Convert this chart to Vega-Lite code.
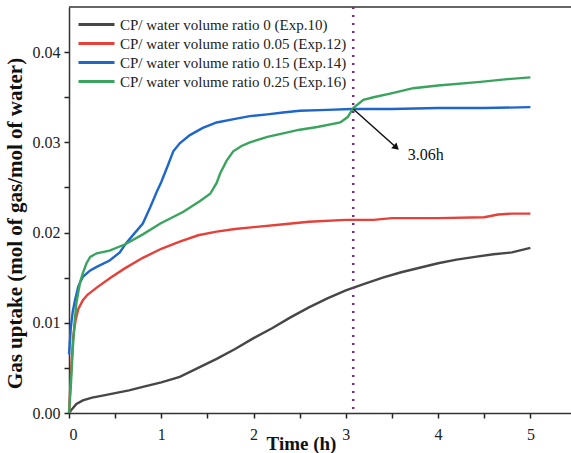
{
  "$schema": "https://vega.github.io/schema/vega-lite/v6.json",
  "width": 502,
  "height": 406,
  "autosize": "none",
  "padding": {"left": 69, "top": 7, "right": 0, "bottom": 40},
  "background": "white",
  "config": {
    "font": "Liberation Serif",
    "view": {"stroke": null}
  },
  "datasets": {
    "curves": [
      {"s": "CP/ water volume ratio 0 (Exp.10)", "t": 0, "v": 0},
      {"s": "CP/ water volume ratio 0 (Exp.10)", "t": 0.03, "v": 0.0004},
      {"s": "CP/ water volume ratio 0 (Exp.10)", "t": 0.08, "v": 0.0010},
      {"s": "CP/ water volume ratio 0 (Exp.10)", "t": 0.15, "v": 0.0014},
      {"s": "CP/ water volume ratio 0 (Exp.10)", "t": 0.25, "v": 0.0017},
      {"s": "CP/ water volume ratio 0 (Exp.10)", "t": 0.35, "v": 0.0019},
      {"s": "CP/ water volume ratio 0 (Exp.10)", "t": 0.5, "v": 0.0022},
      {"s": "CP/ water volume ratio 0 (Exp.10)", "t": 0.65, "v": 0.0025},
      {"s": "CP/ water volume ratio 0 (Exp.10)", "t": 0.8, "v": 0.0029},
      {"s": "CP/ water volume ratio 0 (Exp.10)", "t": 1.0, "v": 0.0034},
      {"s": "CP/ water volume ratio 0 (Exp.10)", "t": 1.2, "v": 0.0040},
      {"s": "CP/ water volume ratio 0 (Exp.10)", "t": 1.4, "v": 0.0050},
      {"s": "CP/ water volume ratio 0 (Exp.10)", "t": 1.6, "v": 0.0060},
      {"s": "CP/ water volume ratio 0 (Exp.10)", "t": 1.8, "v": 0.0071},
      {"s": "CP/ water volume ratio 0 (Exp.10)", "t": 2.0, "v": 0.0083},
      {"s": "CP/ water volume ratio 0 (Exp.10)", "t": 2.2, "v": 0.0094},
      {"s": "CP/ water volume ratio 0 (Exp.10)", "t": 2.4, "v": 0.0106},
      {"s": "CP/ water volume ratio 0 (Exp.10)", "t": 2.6, "v": 0.0117},
      {"s": "CP/ water volume ratio 0 (Exp.10)", "t": 2.8, "v": 0.0127},
      {"s": "CP/ water volume ratio 0 (Exp.10)", "t": 3.0, "v": 0.0136},
      {"s": "CP/ water volume ratio 0 (Exp.10)", "t": 3.2, "v": 0.0143},
      {"s": "CP/ water volume ratio 0 (Exp.10)", "t": 3.4, "v": 0.0150},
      {"s": "CP/ water volume ratio 0 (Exp.10)", "t": 3.6, "v": 0.0156},
      {"s": "CP/ water volume ratio 0 (Exp.10)", "t": 3.8, "v": 0.0161},
      {"s": "CP/ water volume ratio 0 (Exp.10)", "t": 4.0, "v": 0.0166},
      {"s": "CP/ water volume ratio 0 (Exp.10)", "t": 4.2, "v": 0.0170},
      {"s": "CP/ water volume ratio 0 (Exp.10)", "t": 4.4, "v": 0.0173},
      {"s": "CP/ water volume ratio 0 (Exp.10)", "t": 4.6, "v": 0.0176},
      {"s": "CP/ water volume ratio 0 (Exp.10)", "t": 4.8, "v": 0.0178},
      {"s": "CP/ water volume ratio 0 (Exp.10)", "t": 5.0, "v": 0.0183},

      {"s": "CP/ water volume ratio 0.05 (Exp.12)", "t": 0, "v": 0},
      {"s": "CP/ water volume ratio 0.05 (Exp.12)", "t": 0.01, "v": 0.002},
      {"s": "CP/ water volume ratio 0.05 (Exp.12)", "t": 0.025, "v": 0.005},
      {"s": "CP/ water volume ratio 0.05 (Exp.12)", "t": 0.045, "v": 0.0084},
      {"s": "CP/ water volume ratio 0.05 (Exp.12)", "t": 0.07, "v": 0.0102},
      {"s": "CP/ water volume ratio 0.05 (Exp.12)", "t": 0.1, "v": 0.0115},
      {"s": "CP/ water volume ratio 0.05 (Exp.12)", "t": 0.15, "v": 0.0125},
      {"s": "CP/ water volume ratio 0.05 (Exp.12)", "t": 0.2, "v": 0.0131},
      {"s": "CP/ water volume ratio 0.05 (Exp.12)", "t": 0.3, "v": 0.0139},
      {"s": "CP/ water volume ratio 0.05 (Exp.12)", "t": 0.45, "v": 0.0150},
      {"s": "CP/ water volume ratio 0.05 (Exp.12)", "t": 0.6, "v": 0.0160},
      {"s": "CP/ water volume ratio 0.05 (Exp.12)", "t": 0.8, "v": 0.0172},
      {"s": "CP/ water volume ratio 0.05 (Exp.12)", "t": 1.0, "v": 0.0182},
      {"s": "CP/ water volume ratio 0.05 (Exp.12)", "t": 1.2, "v": 0.0190},
      {"s": "CP/ water volume ratio 0.05 (Exp.12)", "t": 1.4, "v": 0.0197},
      {"s": "CP/ water volume ratio 0.05 (Exp.12)", "t": 1.6, "v": 0.0201},
      {"s": "CP/ water volume ratio 0.05 (Exp.12)", "t": 1.8, "v": 0.0204},
      {"s": "CP/ water volume ratio 0.05 (Exp.12)", "t": 2.0, "v": 0.0206},
      {"s": "CP/ water volume ratio 0.05 (Exp.12)", "t": 2.3, "v": 0.0209},
      {"s": "CP/ water volume ratio 0.05 (Exp.12)", "t": 2.6, "v": 0.0212},
      {"s": "CP/ water volume ratio 0.05 (Exp.12)", "t": 3.0, "v": 0.0214},
      {"s": "CP/ water volume ratio 0.05 (Exp.12)", "t": 3.3, "v": 0.0214},
      {"s": "CP/ water volume ratio 0.05 (Exp.12)", "t": 3.5, "v": 0.0216},
      {"s": "CP/ water volume ratio 0.05 (Exp.12)", "t": 4.0, "v": 0.0216},
      {"s": "CP/ water volume ratio 0.05 (Exp.12)", "t": 4.5, "v": 0.0217},
      {"s": "CP/ water volume ratio 0.05 (Exp.12)", "t": 4.65, "v": 0.0220},
      {"s": "CP/ water volume ratio 0.05 (Exp.12)", "t": 4.8, "v": 0.0221},
      {"s": "CP/ water volume ratio 0.05 (Exp.12)", "t": 5.0, "v": 0.0221},

      {"s": "CP/ water volume ratio 0.15 (Exp.14)", "t": 0, "v": 0.0065},
      {"s": "CP/ water volume ratio 0.15 (Exp.14)", "t": 0.02, "v": 0.0095},
      {"s": "CP/ water volume ratio 0.15 (Exp.14)", "t": 0.04, "v": 0.0112},
      {"s": "CP/ water volume ratio 0.15 (Exp.14)", "t": 0.065, "v": 0.0125},
      {"s": "CP/ water volume ratio 0.15 (Exp.14)", "t": 0.1, "v": 0.0140},
      {"s": "CP/ water volume ratio 0.15 (Exp.14)", "t": 0.15, "v": 0.0151},
      {"s": "CP/ water volume ratio 0.15 (Exp.14)", "t": 0.23, "v": 0.0158},
      {"s": "CP/ water volume ratio 0.15 (Exp.14)", "t": 0.3, "v": 0.0162},
      {"s": "CP/ water volume ratio 0.15 (Exp.14)", "t": 0.44, "v": 0.0169},
      {"s": "CP/ water volume ratio 0.15 (Exp.14)", "t": 0.55, "v": 0.0178},
      {"s": "CP/ water volume ratio 0.15 (Exp.14)", "t": 0.61, "v": 0.0187},
      {"s": "CP/ water volume ratio 0.15 (Exp.14)", "t": 0.7, "v": 0.0198},
      {"s": "CP/ water volume ratio 0.15 (Exp.14)", "t": 0.8, "v": 0.0210},
      {"s": "CP/ water volume ratio 0.15 (Exp.14)", "t": 0.88, "v": 0.0228},
      {"s": "CP/ water volume ratio 0.15 (Exp.14)", "t": 0.95, "v": 0.0245},
      {"s": "CP/ water volume ratio 0.15 (Exp.14)", "t": 1.0, "v": 0.0256},
      {"s": "CP/ water volume ratio 0.15 (Exp.14)", "t": 1.07, "v": 0.0274},
      {"s": "CP/ water volume ratio 0.15 (Exp.14)", "t": 1.13, "v": 0.0290},
      {"s": "CP/ water volume ratio 0.15 (Exp.14)", "t": 1.2, "v": 0.0299},
      {"s": "CP/ water volume ratio 0.15 (Exp.14)", "t": 1.31, "v": 0.0308},
      {"s": "CP/ water volume ratio 0.15 (Exp.14)", "t": 1.45, "v": 0.0316},
      {"s": "CP/ water volume ratio 0.15 (Exp.14)", "t": 1.6, "v": 0.0322},
      {"s": "CP/ water volume ratio 0.15 (Exp.14)", "t": 1.8, "v": 0.0326},
      {"s": "CP/ water volume ratio 0.15 (Exp.14)", "t": 1.96, "v": 0.0329},
      {"s": "CP/ water volume ratio 0.15 (Exp.14)", "t": 2.15, "v": 0.0331},
      {"s": "CP/ water volume ratio 0.15 (Exp.14)", "t": 2.32, "v": 0.0333},
      {"s": "CP/ water volume ratio 0.15 (Exp.14)", "t": 2.5, "v": 0.0335},
      {"s": "CP/ water volume ratio 0.15 (Exp.14)", "t": 2.8, "v": 0.0336},
      {"s": "CP/ water volume ratio 0.15 (Exp.14)", "t": 3.06, "v": 0.0337},
      {"s": "CP/ water volume ratio 0.15 (Exp.14)", "t": 3.5, "v": 0.0337},
      {"s": "CP/ water volume ratio 0.15 (Exp.14)", "t": 4.0, "v": 0.0338},
      {"s": "CP/ water volume ratio 0.15 (Exp.14)", "t": 4.5, "v": 0.0338},
      {"s": "CP/ water volume ratio 0.15 (Exp.14)", "t": 5.0, "v": 0.0339},

      {"s": "CP/ water volume ratio 0.25 (Exp.16)", "t": 0, "v": 0},
      {"s": "CP/ water volume ratio 0.25 (Exp.16)", "t": 0.02, "v": 0.003},
      {"s": "CP/ water volume ratio 0.25 (Exp.16)", "t": 0.04, "v": 0.007},
      {"s": "CP/ water volume ratio 0.25 (Exp.16)", "t": 0.06, "v": 0.0100},
      {"s": "CP/ water volume ratio 0.25 (Exp.16)", "t": 0.08, "v": 0.0122},
      {"s": "CP/ water volume ratio 0.25 (Exp.16)", "t": 0.12, "v": 0.0145},
      {"s": "CP/ water volume ratio 0.25 (Exp.16)", "t": 0.15, "v": 0.0155},
      {"s": "CP/ water volume ratio 0.25 (Exp.16)", "t": 0.19, "v": 0.0166},
      {"s": "CP/ water volume ratio 0.25 (Exp.16)", "t": 0.23, "v": 0.0173},
      {"s": "CP/ water volume ratio 0.25 (Exp.16)", "t": 0.3, "v": 0.0177},
      {"s": "CP/ water volume ratio 0.25 (Exp.16)", "t": 0.44, "v": 0.0180},
      {"s": "CP/ water volume ratio 0.25 (Exp.16)", "t": 0.61, "v": 0.0187},
      {"s": "CP/ water volume ratio 0.25 (Exp.16)", "t": 0.8, "v": 0.0198},
      {"s": "CP/ water volume ratio 0.25 (Exp.16)", "t": 0.99, "v": 0.0210},
      {"s": "CP/ water volume ratio 0.25 (Exp.16)", "t": 1.24, "v": 0.0223},
      {"s": "CP/ water volume ratio 0.25 (Exp.16)", "t": 1.42, "v": 0.0235},
      {"s": "CP/ water volume ratio 0.25 (Exp.16)", "t": 1.53, "v": 0.0243},
      {"s": "CP/ water volume ratio 0.25 (Exp.16)", "t": 1.6, "v": 0.0255},
      {"s": "CP/ water volume ratio 0.25 (Exp.16)", "t": 1.64, "v": 0.0266},
      {"s": "CP/ water volume ratio 0.25 (Exp.16)", "t": 1.71, "v": 0.0280},
      {"s": "CP/ water volume ratio 0.25 (Exp.16)", "t": 1.78, "v": 0.0290},
      {"s": "CP/ water volume ratio 0.25 (Exp.16)", "t": 1.87, "v": 0.0296},
      {"s": "CP/ water volume ratio 0.25 (Exp.16)", "t": 1.96, "v": 0.0300},
      {"s": "CP/ water volume ratio 0.25 (Exp.16)", "t": 2.15, "v": 0.0306},
      {"s": "CP/ water volume ratio 0.25 (Exp.16)", "t": 2.32, "v": 0.0310},
      {"s": "CP/ water volume ratio 0.25 (Exp.16)", "t": 2.5, "v": 0.0314},
      {"s": "CP/ water volume ratio 0.25 (Exp.16)", "t": 2.69, "v": 0.0317},
      {"s": "CP/ water volume ratio 0.25 (Exp.16)", "t": 2.94, "v": 0.0322},
      {"s": "CP/ water volume ratio 0.25 (Exp.16)", "t": 3.02, "v": 0.0328},
      {"s": "CP/ water volume ratio 0.25 (Exp.16)", "t": 3.08, "v": 0.0338},
      {"s": "CP/ water volume ratio 0.25 (Exp.16)", "t": 3.19, "v": 0.0347},
      {"s": "CP/ water volume ratio 0.25 (Exp.16)", "t": 3.3, "v": 0.0350},
      {"s": "CP/ water volume ratio 0.25 (Exp.16)", "t": 3.48, "v": 0.0354},
      {"s": "CP/ water volume ratio 0.25 (Exp.16)", "t": 3.73, "v": 0.0360},
      {"s": "CP/ water volume ratio 0.25 (Exp.16)", "t": 4.0, "v": 0.0363},
      {"s": "CP/ water volume ratio 0.25 (Exp.16)", "t": 4.46, "v": 0.0367},
      {"s": "CP/ water volume ratio 0.25 (Exp.16)", "t": 4.75, "v": 0.0370},
      {"s": "CP/ water volume ratio 0.25 (Exp.16)", "t": 5.0, "v": 0.0372}
    ],
    "frame": [{"v": 0.045}],
    "marker": [{"t": 3.08}],
    "arrow": [{"t": 3.08, "v": 0.0337, "t2": 3.547, "v2": 0.02942}],
    "head": [{"t": 3.547, "v": 0.02942}],
    "label": [{"t": 3.67, "v": 0.0286, "txt": "3.06h"}]
  },
  "layer": [
    {
      "data": {"name": "curves"},
      "mark": {"type": "line", "strokeWidth": 2.4},
      "encoding": {
        "x": {"field": "t", "type": "quantitative", "scale": {"domain": [0, 5.44], "nice": false},
          "axis": {
            "orient": "bottom",
            "title": "Time (h)",
            "values": [0, 0.5, 1, 1.5, 2, 2.5, 3, 3.5, 4, 4.5, 5],
            "labelExpr": "datum.value % 1 === 0 ? format(datum.value, 'd') : ''",
            "ticks": true,
            "tickSize": 5,
            "tickColor": "#222222", "tickWidth": 1.5,
            "grid": false,
            "domainColor": "#333333", "domainWidth": 1.5,
            "labelFont": "Liberation Serif", "labelFontSize": 16, "labelColor": "#222222",
            "labelPadding": 8, "labelBaseline": "top",
            "titleFont": "Liberation Serif", "titleFontSize": 19, "titleFontWeight": "bold", "titleColor": "#111111",
            "titleX": 232, "titleY": 21, "titleBaseline": "top", "titleAnchor": "middle"
          }},
        "y": {"field": "v", "type": "quantitative", "scale": {"domain": [0, 0.045], "nice": false},
          "axis": {
            "title": "Gas uptake (mol of gas/mol of water)",
            "values": [0, 0.005, 0.01, 0.015, 0.02, 0.025, 0.03, 0.035, 0.04],
            "labelExpr": "round(datum.value * 1000) % 10 === 0 ? format(datum.value, '.2f') : ''",
            "ticks": true,
            "tickSize": 5,
            "tickColor": "#222222", "tickWidth": 1.5,
            "grid": false,
            "domainColor": "#333333", "domainWidth": 1.5,
            "labelFont": "Liberation Serif", "labelFontSize": 16, "labelColor": "#222222",
            "labelPadding": 4,
            "titleFont": "Liberation Serif", "titleFontSize": 21, "titleFontWeight": "bold", "titleColor": "#111111",
            "titleX": -54, "titleY": 216, "titleBaseline": "middle", "titleAnchor": "middle", "titleAngle": -90
          }},
        "color": {"field": "s", "type": "nominal",
          "scale": {
            "domain": ["CP/ water volume ratio 0 (Exp.10)", "CP/ water volume ratio 0.05 (Exp.12)", "CP/ water volume ratio 0.15 (Exp.14)", "CP/ water volume ratio 0.25 (Exp.16)"],
            "range": ["#474747", "#e5403a", "#1f66c9", "#3aa45f"]
          },
          "legend": {
            "title": null, "orient": "none", "legendX": 8, "legendY": 7,
            "symbolType": "M-1,0H3", "symbolSize": 324, "symbolStrokeWidth": 3,
            "labelFont": "Liberation Serif", "labelFontSize": 15, "labelColor": "#222222",
            "labelOffset": 22, "rowPadding": 0, "labelLimit": 400
          }}
      }
    },
    {
      "data": {"name": "frame"},
      "mark": {"type": "rule", "color": "#333333", "strokeWidth": 1.5},
      "encoding": {
        "y": {"field": "v", "type": "quantitative"}
      }
    },
    {
      "data": {"name": "marker"},
      "mark": {"type": "rule", "color": "#7d2a83", "strokeWidth": 2.5, "strokeDash": [2, 6]},
      "encoding": {
        "x": {"field": "t", "type": "quantitative"}
      }
    },
    {
      "data": {"name": "arrow"},
      "mark": {"type": "rule", "color": "#111111", "strokeWidth": 1.5},
      "encoding": {
        "x": {"field": "t", "type": "quantitative"},
        "y": {"field": "v", "type": "quantitative"},
        "x2": {"field": "t2"},
        "y2": {"field": "v2"}
      }
    },
    {
      "data": {"name": "head"},
      "mark": {"type": "point", "shape": "triangle-up", "filled": true, "color": "#111111", "size": 60, "angle": 132, "opacity": 1},
      "encoding": {
        "x": {"field": "t", "type": "quantitative"},
        "y": {"field": "v", "type": "quantitative"}
      }
    },
    {
      "data": {"name": "label"},
      "mark": {"type": "text", "align": "left", "baseline": "middle", "font": "Liberation Serif", "fontSize": 16, "color": "#111111"},
      "encoding": {
        "x": {"field": "t", "type": "quantitative"},
        "y": {"field": "v", "type": "quantitative"},
        "text": {"field": "txt"}
      }
    }
  ]
}
